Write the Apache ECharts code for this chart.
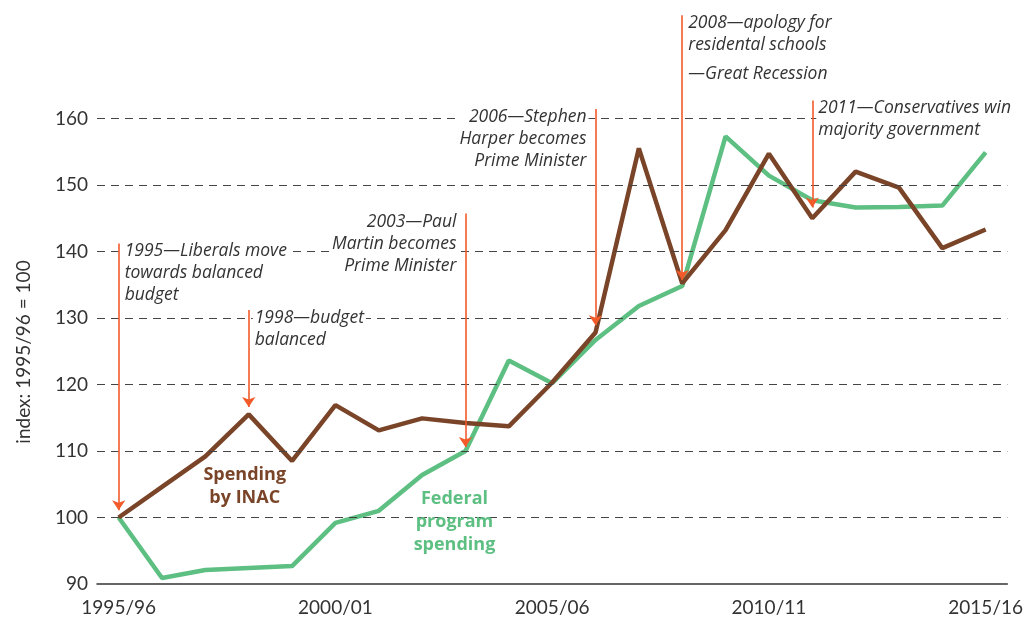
<!DOCTYPE html>
<html>
<head>
<meta charset="utf-8">
<script src="https://cdn.jsdelivr.net/npm/echarts@6/dist/echarts.min.js"></script>
<style>
  html, body { margin: 0; padding: 0; background: #fff; }
  #chart1 { width: 1026px; height: 625px; }
</style>
</head>
<body>
<div id="chart1"></div>
<script>
// data
var years = ['1995/96','1996/97','1997/98','1998/99','1999/00','2000/01','2001/02','2002/03','2003/04','2004/05',
  '2005/06','2006/07','2007/08','2008/09','2009/10','2010/11','2011/12','2012/13','2013/14','2014/15','2015/16'];
var inac = [100, 104.6, 109.2, 115.5, 108.5, 116.9, 113.1, 114.9, 114.2, 113.7,
  120.3, 127.8, 155.5, 135.2, 143.2, 154.7, 145.0, 152.0, 149.6, 140.5, 143.3];
var federal = [100, 90.9, 92.1, 92.4, 92.7, 99.2, 101.0, 106.4, 110.0, 123.6,
  120.2, 126.7, 131.8, 134.8, 157.3, 151.4, 147.7, 146.6, 146.7, 146.9, 154.9];
var yTicks = [100, 110, 120, 130, 140, 150, 160];

// annotations (arrows)
var annoCat = [0, 3, 8, 11, 13, 16];
var annoTop = [141.2, 131.2, 145.7, 161.4, 175.5, 162.7];
var annoTip = [101.1, 116.6, 110.6, 128.9, 135.7, 146.6];
var annoText = [
  '1995—Liberals move\ntowards balanced\nbudget',
  '1998—budget\nbalanced',
  '2003—Paul\nMartin becomes\nPrime Minister',
  '2006—Stephen\nHarper becomes\nPrime Minister',
  '2008—apology for\nresidental schools\n{gap|—Great Recession}',
  '2011—Conservatives win\nmajority government'
];
var annoSide = ['left', 'left', 'right', 'right', 'left', 'left'];

var FONT = 'Lato';
var NOTE_FONT = 'Open Sans';
var brown = '#7a4428', green = '#5dbf82', orange = '#f25a2a';

var chart = echarts.init(document.getElementById('chart1'));

var arrows = annoCat.map(function (c, i) {
  return [{ coord: [c, annoTop[i]] }, { coord: [c, annoTip[i]] }];
});
var notes = annoCat.map(function (c, i) {
  var right = annoSide[i] === 'right';
  return {
    name: annoText[i],
    value: [c, annoTop[i]],
    label: {
      align: right ? 'right' : 'left',
      offset: right ? [-7, -3] : [4, -3]
    }
  };
});

chart.setOption({
  animation: false,
  grid: { left: 97, right: 18, top: 12, bottom: 41 },
  xAxis: {
    type: 'category',
    data: years,
    boundaryGap: true,
    axisLine: { lineStyle: { color: '#333', width: 1.5 } },
    axisTick: { inside: true, alignWithLabel: true, length: 11, lineStyle: { color: '#333', width: 1.2 } },
    axisLabel: { interval: 4, color: '#333', fontFamily: FONT, fontSize: 19, margin: 14 },
    splitLine: { show: false }
  },
  yAxis: {
    type: 'value',
    min: 90, max: 176, interval: 10,
    name: 'index: 1995/96 = 100',
    nameLocation: 'middle',
    nameGap: 64,
    nameTextStyle: { color: '#333', fontFamily: FONT, fontSize: 19, padding: [0, 108, 0, 0] },
    axisLine: { show: false },
    axisTick: { show: false },
    splitLine: { show: false },
    axisLabel: {
      color: '#333', fontFamily: FONT, fontSize: 19, margin: 9,
      formatter: function (v) { return v <= 160 ? v : ''; }
    }
  },
  series: [
    {
      // dashed grid lines
      type: 'line', data: [], z: 1, silent: true,
      markLine: {
        silent: true, symbol: 'none', animation: false,
        label: { show: false },
        lineStyle: { color: '#444', type: [8, 6], width: 1.2 },
        data: yTicks.map(function (v) { return { yAxis: v }; })
      }
    },
    {
      name: 'Spending by INAC', type: 'line', data: inac, z: 4,
      symbol: 'none', lineStyle: { color: brown, width: 4.5 }, itemStyle: { color: brown }
    },
    {
      name: 'Federal program spending', type: 'line', data: federal, z: 3,
      symbol: 'none', lineStyle: { color: green, width: 4.5 }, itemStyle: { color: green }
    },
    {
      // annotation text and arrows
      type: 'scatter', symbolSize: 0, z: 6, silent: true,
      itemStyle: { opacity: 1 },
      data: notes,
      label: {
        show: true, position: 'inside', formatter: '{b}',
        verticalAlign: 'top',
        color: '#333', fontFamily: NOTE_FONT, fontStyle: 'italic', fontSize: 17.5, lineHeight: 22,
        backgroundColor: '#fff', padding: [0, 2, 0, 2],
        rich: { gap: { fontFamily: NOTE_FONT, fontStyle: 'italic', fontSize: 17.5, lineHeight: 36, color: '#333' } }
      },
      markLine: {
        silent: true, animation: false,
        symbol: ['none', 'arrow'], symbolSize: 10,
        label: { show: false },
        lineStyle: { color: orange, width: 1.6, type: 'solid' },
        itemStyle: { color: orange },
        data: arrows
      }
    },
    {
      // series labels
      type: 'scatter', symbolSize: 0, z: 5, silent: true,
      itemStyle: { opacity: 1 },
      data: [
        { name: 'Spending\nby INAC', value: [3, 104.7], label: { color: brown, offset: [-4, 0] } },
        { name: 'Federal\nprogram\nspending', value: [8, 99.3], label: { color: green, offset: [-11, 0] } }
      ],
      label: {
        show: true, position: 'inside', formatter: '{b}', align: 'center', verticalAlign: 'middle',
        fontFamily: NOTE_FONT, fontWeight: 'bold', fontSize: 18, lineHeight: 23
      }
    }
  ]
});
</script>
</body>
</html>
